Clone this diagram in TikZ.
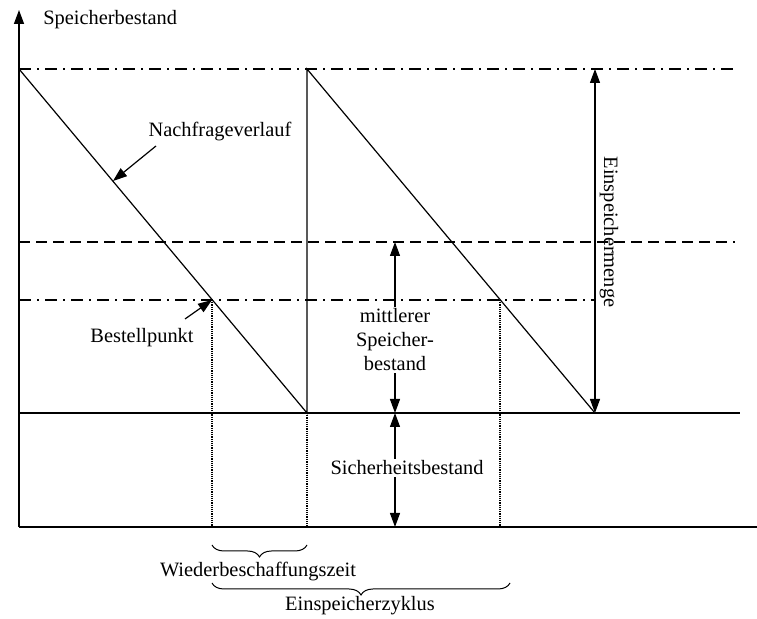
\documentclass[tikz,border=0pt]{standalone}
\usepackage{fontspec}
\setmainfont{Liberation Serif}
\usetikzlibrary{arrows.meta,decorations.pathreplacing}

\begin{document}
\begin{tikzpicture}[x=0.5pt, y=-0.5pt, line width=0.6pt,
        every node/.style={font=\fontsize{10.2}{12}\selectfont},
        pfeil/.style={-{Triangle[length=7pt,width=5pt]}},
        doppelpfeil/.style={{Triangle[length=7pt,width=5pt]}-{Triangle[length=7pt,width=5pt]}},
        strichpunkt/.style={dash pattern=on 6pt off 3pt on 1pt off 3pt},
        gestrichelt/.style={dash pattern=on 5.5pt off 3pt},
        punktiert/.style={line width=0.6pt, dash pattern=on 0.6pt off 0.5pt},
        klammer/.style={decorate, decoration={brace, mirror, amplitude=6pt}},
        textbox/.style={fill=white, inner sep=1pt, align=center}]
        \useasboundingbox (0,0) rectangle (757,619);

        % Achsen
        \coordinate (ursprung) at (19,527);
        \coordinate (yende) at (19,10);
        \coordinate (xende) at (757,527);
        \draw[pfeil, line width=0.7pt] (ursprung) -- (yende);
        \draw[line width=0.7pt] (ursprung) -- (xende);
        \node[anchor=west] (ylabel) at (36,20) {Speicherbestand};

        % Hilfslinien
        \coordinate (max-l) at (19,69);   \coordinate (max-r) at (735,69);
        \coordinate (mit-l) at (19,242);  \coordinate (mit-r) at (735,242);
        \coordinate (bp-l) at (19,300);   \coordinate (bp-r) at (595,300);
        \coordinate (sb-l) at (19,413);   \coordinate (sb-r) at (740,413);
        \draw[strichpunkt] (max-l) -- (max-r);
        \draw[gestrichelt] (mit-l) -- (mit-r);
        \draw[strichpunkt] (bp-l) -- (bp-r);
        \draw[line width=0.7pt] (sb-l) -- (sb-r);

        % Saegezahn
        \coordinate (z1) at (307,413);
        \coordinate (z2) at (307,69);
        \coordinate (z3) at (595,413);
        \draw (max-l) -- (z1) -- (z2) -- (z3);

        % Senkrechte
        \coordinate (bp1) at (212,300);   \coordinate (bp1-u) at (212,527);
        \coordinate (z1-u) at (307,527);
        \coordinate (bp2) at (500,300);   \coordinate (bp2-u) at (500,527);
        \draw[punktiert] (bp1) -- (bp1-u);
        \draw[punktiert] (z1) -- (z1-u);
        \draw[punktiert] (bp2) -- (bp2-u);

        % Nachfrageverlauf, Bestellpunkt
        \coordinate (nv) at (113,181);
        \node (nvtext) at (220,132) {Nachfrageverlauf};
        \draw[pfeil] (156,146) -- (nv);
        \node (bptext) at (142,338) {Bestellpunkt};
        \draw[pfeil] (185,319) -- (bp1);

        % Einspeichermenge
        \coordinate (em-o) at (595,69);
        \draw[doppelpfeil] (em-o) -- (z3);
        \node[rotate=-90] (emtext) at (609,232) {Einspeichermenge};

        % mittlerer Speicherbestand
        \coordinate (ms-o) at (395,242);
        \coordinate (ms-u) at (395,413);
        \draw[doppelpfeil] (ms-o) -- (ms-u);
        \node[textbox] (mstext) at (395,340) {mittlerer\\Speicher-\\bestand};

        % Sicherheitsbestand
        \coordinate (si-u) at (395,527);
        \draw[doppelpfeil] (ms-u) -- (si-u);
        \node[textbox] (sitext) at (407,468) {Sicherheitsbestand};

        % Klammern
        \coordinate (k1-l) at (212,545);  \coordinate (k1-r) at (307,545);
        \coordinate (k2-l) at (212,583);  \coordinate (k2-r) at (510,583);
        \draw[klammer, line width=0.5pt] (k1-l) -- (k1-r);
        \node (wbz) at (258,572) {Wiederbeschaffungszeit};
        \draw[klammer, line width=0.5pt] (k2-l) -- (k2-r);
        \node (ez) at (360,606) {Einspeicherzyklus};
\end{tikzpicture}
\end{document}
